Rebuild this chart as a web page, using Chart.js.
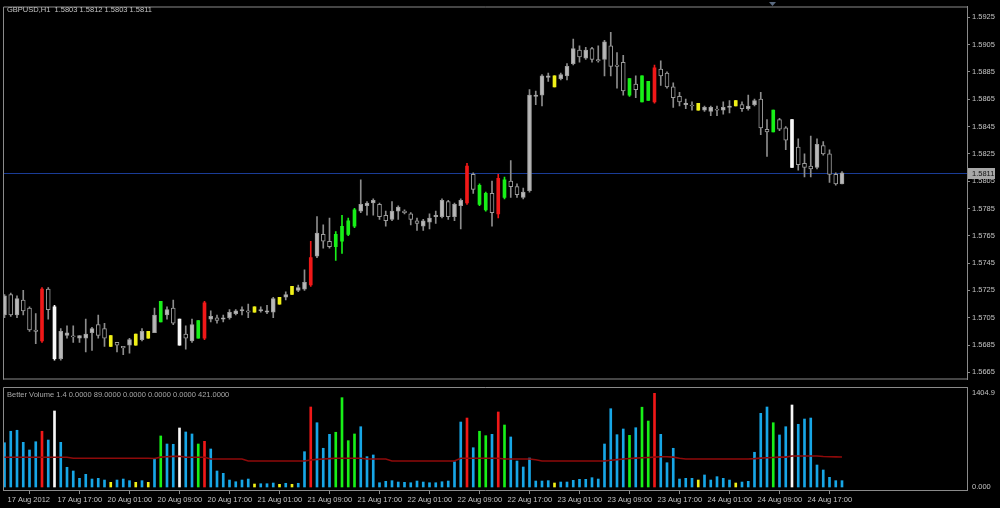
<!DOCTYPE html>
<html><head><meta charset="utf-8">
<script src="https://cdn.jsdelivr.net/npm/chart.js@4.4.0/dist/chart.umd.min.js"></script>
<style>
html,body{margin:0;padding:0;background:#000;width:1000px;height:508px;overflow:hidden}
#wrap{position:relative;width:1000px;height:508px;background:#000}
#main{position:absolute;left:0;top:0}
#vol{position:absolute;left:0;top:386px}
</style></head>
<body><div id="wrap"><canvas id="main" width="1000" height="386"></canvas><canvas id="vol" width="1000" height="122"></canvas></div>
<script>
const SYMBOL = 'GBPUSD', PERIOD = 'H1';
const INDICATOR = 'Better Volume 1.4';

const opens = [1.5707,1.5722,1.5707,1.5718,1.5712,1.5696,1.5688,1.5726,1.5713,1.5675,
1.5692,1.5691,1.5690,1.5690,1.5694,1.5700,1.5697,1.5692,1.5687,1.5684,
1.5685,1.5685,1.5689,1.5690,1.5694,1.5702,1.5707,1.5712,1.5704,1.5693,
1.5688,1.5690,1.5690,1.5704,1.5705,1.5704,1.5705,1.5708,1.5710,1.5710,
1.5709,1.5710,1.5709,1.5709,1.5715,1.5720,1.5722,1.5725,1.5726,1.5729,
1.5750,1.5766,1.5761,1.5757,1.5761,1.5766,1.5772,1.5783,1.5787,1.5789,
1.5788,1.5780,1.5777,1.5783,1.5783,1.5781,1.5776,1.5772,1.5775,1.5779,
1.5779,1.5790,1.5779,1.5787,1.5789,1.5810,1.5802,1.5784,1.5796,1.5781,
1.5793,1.5805,1.5801,1.5793,1.5798,1.5867,1.5868,1.5881,1.5882,1.5880,
1.5882,1.5891,1.5901,1.5895,1.5902,1.5894,1.5894,1.5904,1.5890,1.5892,
1.5868,1.5876,1.5882,1.5864,1.5863,1.5887,1.5884,1.5874,1.5867,1.5861,
1.5860,1.5857,1.5857,1.5856,1.5857,1.5857,1.5859,1.5860,1.5861,1.5858,
1.5861,1.5865,1.5843,1.5841,1.5850,1.5844,1.5850,1.5830,1.5818,1.5816,
1.5815,1.5831,1.5825,1.5810,1.5803];
const highs = [1.5722,1.5723,1.5721,1.5725,1.5713,1.5708,1.5727,1.5727,1.5714,1.5697,
1.5699,1.5699,1.5692,1.5704,1.5698,1.5707,1.5701,1.5692,1.5687,1.5684,
1.5690,1.5693,1.5697,1.5695,1.5712,1.5717,1.5713,1.5718,1.5704,1.5699,
1.5704,1.5703,1.5717,1.5710,1.5707,1.5707,1.5711,1.5711,1.5713,1.5715,
1.5713,1.5713,1.5714,1.5720,1.5720,1.5724,1.5728,1.5729,1.5740,1.5761,
1.5779,1.5773,1.5778,1.5768,1.5780,1.5778,1.5785,1.5806,1.5790,1.5792,
1.5789,1.5783,1.5790,1.5787,1.5784,1.5782,1.5778,1.5777,1.5781,1.5783,
1.5792,1.5791,1.5789,1.5792,1.5818,1.5811,1.5803,1.5797,1.5805,1.5810,
1.5808,1.5820,1.5803,1.5800,1.5872,1.5871,1.5883,1.5884,1.5882,1.5884,
1.5891,1.5909,1.5904,1.5903,1.5903,1.5904,1.5908,1.5914,1.5899,1.5897,
1.5880,1.5882,1.5882,1.5878,1.5890,1.5893,1.5885,1.5877,1.5870,1.5865,
1.5863,1.5862,1.5860,1.5860,1.5860,1.5863,1.5864,1.5864,1.5863,1.5868,
1.5865,1.5870,1.5850,1.5857,1.5851,1.5845,1.5850,1.5836,1.5825,1.5838,
1.5836,1.5834,1.5828,1.5811,1.5812];
const lows = [1.5705,1.5706,1.5705,1.5707,1.5695,1.5686,1.5687,1.5704,1.5674,1.5674,
1.5690,1.5687,1.5687,1.5680,1.5681,1.5690,1.5684,1.5684,1.5680,1.5678,
1.5679,1.5685,1.5688,1.5690,1.5694,1.5702,1.5704,1.5700,1.5685,1.5682,
1.5687,1.5690,1.5689,1.5702,1.5701,1.5702,1.5704,1.5707,1.5707,1.5705,
1.5709,1.5709,1.5708,1.5705,1.5715,1.5718,1.5722,1.5724,1.5725,1.5728,
1.5749,1.5756,1.5756,1.5747,1.5752,1.5765,1.5771,1.5782,1.5780,1.5780,
1.5777,1.5772,1.5776,1.5777,1.5781,1.5773,1.5769,1.5769,1.5770,1.5774,
1.5778,1.5777,1.5776,1.5770,1.5788,1.5796,1.5787,1.5783,1.5772,1.5778,
1.5792,1.5793,1.5793,1.5792,1.5797,1.5861,1.5860,1.5878,1.5874,1.5879,
1.5879,1.5890,1.5892,1.5894,1.5892,1.5892,1.5882,1.5882,1.5873,1.5868,
1.5867,1.5866,1.5863,1.5864,1.5862,1.5875,1.5873,1.5859,1.5860,1.5858,
1.5857,1.5857,1.5856,1.5853,1.5853,1.5854,1.5855,1.5860,1.5856,1.5857,
1.5860,1.5839,1.5823,1.5841,1.5842,1.5828,1.5815,1.5813,1.5808,1.5808,
1.5814,1.5824,1.5804,1.5802,1.5803];
const closes = [1.5721,1.5707,1.5719,1.5710,1.5696,1.5695,1.5726,1.5711,1.5675,1.5695,
1.5694,1.5691,1.5692,1.5693,1.5697,1.5692,1.5690,1.5684,1.5685,1.5683,
1.5689,1.5693,1.5695,1.5695,1.5707,1.5717,1.5711,1.5701,1.5685,1.5690,
1.5700,1.5703,1.5716,1.5706,1.5703,1.5705,1.5709,1.5710,1.5711,1.5709,
1.5713,1.5711,1.5710,1.5719,1.5720,1.5722,1.5728,1.5727,1.5731,1.5749,
1.5767,1.5761,1.5757,1.5766,1.5772,1.5776,1.5784,1.5788,1.5789,1.5791,
1.5779,1.5776,1.5783,1.5786,1.5782,1.5777,1.5774,1.5776,1.5778,1.5780,
1.5791,1.5779,1.5788,1.5791,1.5816,1.5799,1.5788,1.5796,1.5782,1.5807,
1.5806,1.5801,1.5795,1.5797,1.5868,1.5868,1.5882,1.5882,1.5874,1.5883,
1.5889,1.5902,1.5896,1.5901,1.5894,1.5893,1.5907,1.5889,1.5889,1.5871,
1.5880,1.5872,1.5863,1.5878,1.5888,1.5882,1.5874,1.5866,1.5863,1.5862,
1.5860,1.5862,1.5859,1.5859,1.5857,1.5859,1.5860,1.5864,1.5858,1.5860,
1.5864,1.5844,1.5841,1.5857,1.5843,1.5835,1.5815,1.5817,1.5815,1.5814,
1.5832,1.5825,1.5810,1.5803,1.5811];

const volumes = [622,783,797,628,520,636,783,660,1068,628,
277,225,122,178,112,122,98,66,98,112,
89,66,89,66,393,717,604,600,829,773,
745,604,642,534,225,192,98,74,98,112,
42,46,46,56,38,52,38,52,496,1124,
903,544,740,769,1255,651,745,847,426,450,
60,80,89,70,66,60,84,70,60,60,
74,84,355,913,969,552,783,721,740,1054,
871,703,365,281,407,84,84,89,56,70,
70,94,108,108,131,112,604,1100,735,815,
726,833,1121,927,1316,740,341,544,112,122,
122,98,169,98,145,122,98,56,70,80,
488,1035,1124,903,731,847,1152,881,955,969,
309,239,136,89,89];

// b = normal, r = climax, g = churn, y = low volume, w = climax + churn
const volumeClass = ('bbbbbbrbwb'+'bbbbbbbybb'+'bybybgbbwb'+'bgrbbbbbbb'+'ybbbybybbr'+
'bbbggggbbb'+'bbbbbbbbbb'+'bbbbrbggbr'+'gbbbbbbbyb'+'bbbbbbbbbb'+
'gbggrbbbbb'+'bybbbbbybb'+'bbbgbbwbbb'+'bbbbb').split('');

const volumeAverage = [417,417,417,417,417,417,417,417,417,417,
417,403,403,403,403,403,403,403,403,403,
403,403,403,403,400,420,425,430,432,417,
417,417,417,393,393,393,393,393,393,365,
365,365,365,365,365,365,365,365,365,380,
388,393,398,403,403,403,403,403,393,393,
393,393,365,365,365,365,365,365,365,365,
365,365,365,403,403,403,403,403,403,403,
393,393,393,393,393,384,365,365,365,365,
365,365,365,365,365,365,365,375,385,393,
400,405,410,415,420,424,426,420,405,393,
393,393,393,393,393,393,393,393,393,393,
398,405,410,415,420,420,435,435,435,435,
435,428,425,423,421];

const priceTicks = [1.5665,1.5685,1.5705,1.5725,1.5745,1.5765,1.5785,1.5805,1.5825,1.5845,1.5865,1.5885,1.5905,1.5925];
const timeLabelBars = [0,8,16,24,32,40,48,56,64,72,80,88,96,104,112,120,128];
const timeLabels = ['17 Aug 2012','17 Aug 17:00','20 Aug 01:00','20 Aug 09:00','20 Aug 17:00','21 Aug 01:00',
'21 Aug 09:00','21 Aug 17:00','22 Aug 01:00','22 Aug 09:00','22 Aug 17:00','23 Aug 01:00',
'23 Aug 09:00','23 Aug 17:00','24 Aug 01:00','24 Aug 09:00','24 Aug 17:00'];
const VOL_AXIS_MAX = 1404.9;

// ---------- styling ----------
const N = opens.length;
const CLASS_COLOR = {b:'#17a6e6', r:'#f01818', g:'#18f018', y:'#f0f018', w:'#f8f8f8'};
const BULL_FILL = '#b8b8b8', CANDLE_LINE = '#9c9c9c', WICK = '#8c8c8c';
const FRAME = '#8a8a8a', TEXT = '#c4c4c4';
const FONT = 'Liberation Sans';
const X_MIN = -0.24, X_MAX = 154;

const idx = [...Array(N).keys()];
const plain = idx.filter(i => volumeClass[i] === 'b');
const painted = idx.filter(i => volumeClass[i] !== 'b');

function fixedWidth(w){ return function(s){ s.width = w; }; }

const mainDecor = {
  id: 'mainDecor',
  beforeDatasetsDraw(chart){
    const {ctx, chartArea:a, scales:{y}} = chart;
    const py = Math.round(y.getPixelForValue(closes[N-1])) + 0.5;
    ctx.save();
    ctx.strokeStyle = '#1a3c96'; ctx.lineWidth = 1;
    ctx.beginPath(); ctx.moveTo(a.left, py); ctx.lineTo(a.right, py); ctx.stroke();
    ctx.restore();
  },
  afterDraw(chart){
    const {ctx, chartArea:a, scales:{y}} = chart;
    ctx.save();
    ctx.strokeStyle = FRAME; ctx.lineWidth = 1;
    ctx.beginPath();
    ctx.moveTo(a.left + 0.5, a.bottom); ctx.lineTo(a.left + 0.5, a.top + 0.5); ctx.lineTo(a.right, a.top + 0.5);
    ctx.moveTo(a.left, a.bottom - 0.5); ctx.lineTo(a.right, a.bottom - 0.5);
    ctx.stroke();
    // bid label on the price axis
    const last = closes[N-1];
    const py = Math.round(y.getPixelForValue(last));
    ctx.fillStyle = '#a8a8a8';
    ctx.fillRect(a.right + 1, py - 5, 27, 11);
    ctx.fillStyle = '#101010';
    ctx.font = '7.5px "' + FONT + '"'; ctx.textBaseline = 'middle'; ctx.textAlign = 'left';
    ctx.fillText(last.toFixed(4), a.right + 5, py + 0.5);
    // header
    ctx.fillStyle = TEXT;
    ctx.fillText(SYMBOL + ',' + PERIOD + '  ' + [opens[N-1], highs[N-1], lows[N-1], closes[N-1]].map(v => v.toFixed(4)).join(' '), 7, 10);
    // chart shift marker
    ctx.fillStyle = '#5a6a80';
    ctx.beginPath(); ctx.moveTo(769, 2); ctx.lineTo(776, 2); ctx.lineTo(772.5, 6); ctx.closePath(); ctx.fill();
    ctx.restore();
  }
};

new Chart(document.getElementById('main'), {
  data: {
    datasets: [
      { type:'bar', label:'wicks', order:3, grouped:false, barThickness:1, minBarLength:1,
        data: idx.map(i => ({x:i, y:[lows[i], highs[i]]})),
        backgroundColor: idx.map(i => volumeClass[i] === 'b' ? WICK : CLASS_COLOR[volumeClass[i]]) },
      { type:'bar', label:'bodies', order:2, grouped:false, barThickness:4, minBarLength:1,
        borderWidth:1, borderSkipped:false,
        data: plain.map(i => ({x:i, y:[opens[i], closes[i]]})),
        backgroundColor: plain.map(i => closes[i] > opens[i] ? BULL_FILL : '#000000'),
        borderColor: CANDLE_LINE },
      { type:'bar', label:'painted', order:1, grouped:false, barThickness:3, minBarLength:1,
        data: painted.map(i => ({x:i, y:[opens[i], closes[i]]})),
        backgroundColor: painted.map(i => CLASS_COLOR[volumeClass[i]]) }
    ]
  },
  options: {
    responsive:false, animation:false, events:[],
    layout:{ padding:{ left:3, top:1, right:0, bottom:1 } },
    plugins:{ legend:{display:false}, tooltip:{enabled:false} },
    scales:{
      x:{ type:'linear', min:X_MIN, max:X_MAX, offset:false, display:false },
      y:{ type:'linear', position:'right', min:1.56598, max:1.593282,
          afterBuildTicks: s => { s.ticks = priceTicks.map(v => ({value:v})); },
          afterFit: fixedWidth(33),
          border:{ display:true, color:FRAME },
          grid:{ drawOnChartArea:false, drawTicks:true, tickLength:3, color:FRAME },
          ticks:{ color:TEXT, padding:2, font:{family:FONT, size:7.5}, callback: v => Number(v).toFixed(4) } }
    }
  },
  plugins:[mainDecor]
});

const volDecor = {
  id:'volDecor',
  afterDraw(chart){
    const {ctx, chartArea:a, scales:{y}} = chart;
    ctx.save();
    ctx.strokeStyle = FRAME; ctx.lineWidth = 1;
    ctx.beginPath();
    ctx.moveTo(a.left + 0.5, a.bottom); ctx.lineTo(a.left + 0.5, a.top + 0.5); ctx.lineTo(a.right, a.top + 0.5);
    ctx.stroke();
    ctx.font = '7.5px "' + FONT + '"'; ctx.textBaseline = 'middle'; ctx.textAlign = 'left';
    ctx.fillStyle = TEXT;
    ctx.fillText(VOL_AXIS_MAX.toFixed(1), a.right + 5, y.getPixelForValue(VOL_AXIS_MAX) + 6);
    ctx.fillText((0).toFixed(3), a.right + 5, y.getPixelForValue(0));
    const last = N - 1;
    const buf = ['r','b','y','g','w'].map(c => (volumeClass[last] === c ? volumes[last] : 0).toFixed(4));
    ctx.fillStyle = '#a8a8a8';
    ctx.fillText(INDICATOR + ' ' + buf.join(' ') + ' ' + volumeAverage[last].toFixed(4), 7, 9);
    ctx.restore();
  }
};

new Chart(document.getElementById('vol'), {
  data: {
    datasets: [
      { type:'line', label:'average', order:0, data: idx.map(i => ({x:i, y:volumeAverage[i]})),
        borderColor:'#8e0a0a', borderWidth:1.6, pointRadius:0, tension:0 },
      { type:'bar', label:'volume', order:1, grouped:false, barThickness:2,
        data: idx.map(i => ({x:i, y:volumes[i]})),
        backgroundColor: idx.map(i => CLASS_COLOR[volumeClass[i]]) }
    ]
  },
  options: {
    responsive:false, animation:false, events:[],
    layout:{ padding:{ left:3, top:1, right:0, bottom:0 } },
    plugins:{ legend:{display:false}, tooltip:{enabled:false} },
    scales:{
      x:{ type:'linear', min:X_MIN, max:X_MAX, offset:false,
          afterBuildTicks: s => { s.ticks = timeLabelBars.map(v => ({value:v})); },
          afterFit: s => { s.height = 18; },
          border:{ display:true, color:FRAME },
          grid:{ drawOnChartArea:false, drawTicks:true, tickLength:4, color:FRAME },
          ticks:{ color:TEXT, padding:1, align:'start', labelOffset:3, autoSkip:false, maxRotation:0, minRotation:0,
                  font:{family:FONT, size:7.5},
                  callback: v => timeLabels[timeLabelBars.indexOf(v)] } },
      y:{ type:'linear', position:'right', min:-42.15, max:VOL_AXIS_MAX,
          afterFit: fixedWidth(33),
          border:{ display:true, color:FRAME },
          grid:{ display:false },
          ticks:{ display:false } }
    }
  },
  plugins:[volDecor]
});
</script>
</body></html>
